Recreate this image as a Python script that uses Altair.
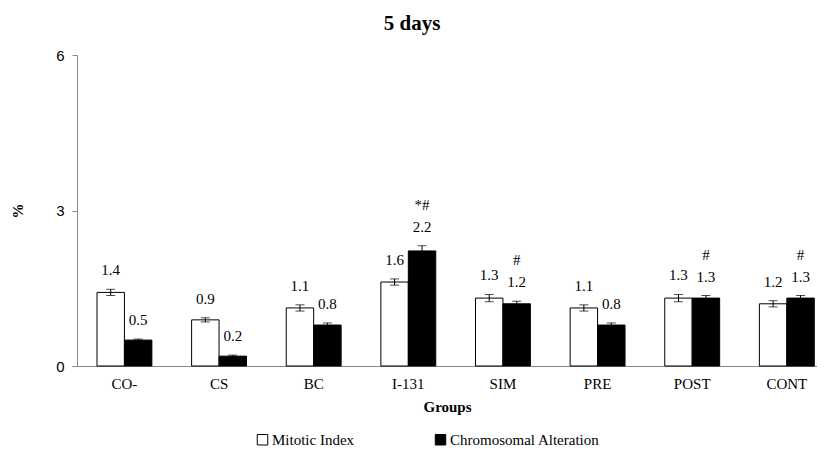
import altair as alt
import pandas as pd

groups = ["CO-", "CS", "BC", "I-131", "SIM", "PRE", "POST", "CONT"]
series = ["Mitotic Index", "Chromosomal Alteration"]
mitotic = [1.42, 0.89, 1.12, 1.62, 1.31, 1.12, 1.31, 1.20]
chromo = [0.50, 0.19, 0.79, 2.22, 1.20, 0.79, 1.31, 1.31]
mitotic_err = [0.06, 0.04, 0.06, 0.06, 0.07, 0.06, 0.07, 0.06]
chromo_err = [0.02, 0.02, 0.04, 0.10, 0.05, 0.04, 0.05, 0.05]
chromo_sig = ["", "", "", "*#", "#", "", "#", "#"]

rows = []
for i, g in enumerate(groups):
    rows.append(dict(group=g, series=series[0], value=mitotic[i], err=mitotic_err[i], sig=""))
    rows.append(dict(group=g, series=series[1], value=chromo[i], err=chromo_err[i], sig=chromo_sig[i]))
df = pd.DataFrame(rows)
df["lo"] = df["value"] - df["err"]
df["hi"] = df["value"] + df["err"]

SERIF = "Liberation Serif"
SANS = "Liberation Sans"

xenc = alt.X("group:N", sort=groups,
             scale=alt.Scale(paddingInner=0.42, paddingOuter=0.12, align=0.88),
             axis=alt.Axis(title="Groups", labelFont=SERIF, labelFontSize=15, labelColor="black",
                           labelAngle=0, labelPadding=10, ticks=False, domainColor="#888888",
                           titleFont=SERIF, titleFontSize=15, titleFontWeight="bold",
                           titleColor="black", titlePadding=8))
xoff = alt.XOffset("series:N", sort=series, scale=alt.Scale(domain=series, paddingInner=0, paddingOuter=0))

base = alt.Chart(df).encode(x=xenc, xOffset=xoff)

bars = base.mark_bar(stroke="black", strokeWidth=1).encode(
    y=alt.Y("value:Q", scale=alt.Scale(domain=[0, 6]),
            axis=alt.Axis(values=[0, 3, 6], title="%", grid=False, labelFont=SANS,
                          labelFontSize=15, labelColor="black", domainColor="#888888",
                          tickColor="#888888", tickSize=5, labelPadding=8,
                          titleFont=SERIF, titleFontSize=15, titleFontWeight="bold",
                          titleColor="black", titlePadding=30)),
    fill=alt.Fill("series:N", sort=series,
                  scale=alt.Scale(domain=series, range=["white", "black"]),
                  legend=alt.Legend(title=None, orient="none", direction="horizontal",
                                    legendX=178, legendY=377, symbolType="square",
                                    symbolSize=110, symbolStrokeColor="black",
                                    symbolStrokeWidth=1, labelFont=SERIF, labelFontSize=15,
                                    labelColor="black", columnPadding=78, labelOffset=2)),
)

rules = base.mark_rule(color="black", strokeWidth=1).encode(y="lo:Q", y2="hi:Q")
cap_lo = base.mark_tick(color="black", thickness=1, size=9).encode(y="lo:Q")
cap_hi = base.mark_tick(color="black", thickness=1, size=9).encode(y="hi:Q")

labels = base.mark_text(font=SERIF, fontSize=15, dy=-11, baseline="bottom", color="black").encode(
    y="hi:Q", text=alt.Text("value:Q", format=".1f"))
sig = base.mark_text(font=SERIF, fontSize=15, dy=-33, baseline="bottom", color="black").encode(
    y="hi:Q", text="sig:N")

chart = alt.layer(bars, rules, cap_lo, cap_hi, labels, sig).properties(
    width=740, height=311,
    autosize="none",
    padding={"left": 69, "top": 47, "right": 0, "bottom": 86},
    title=alt.TitleParams("5 days", font=SERIF, fontSize=21, fontWeight="bold",
                          color="black", offset=14, dx=-35),
).configure_view(stroke=None).configure_text(font=SERIF).configure_legend(labelFont=SERIF)

chart.save("out.html", embed_options={"renderer": "svg", "actions": False})
